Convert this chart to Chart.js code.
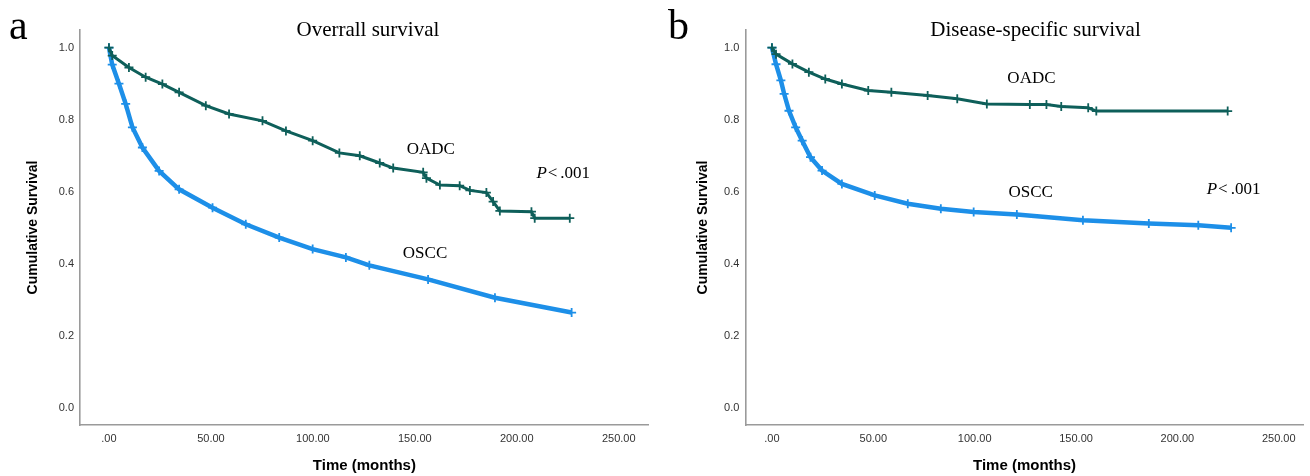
<!DOCTYPE html>
<html>
<head>
<meta charset="utf-8">
<script src="https://cdn.jsdelivr.net/npm/chart.js@4.4.1/dist/chart.umd.min.js"></script>
<style>
  html, body { margin: 0; padding: 0; background: #fff; }
  #lienzo { position: relative; width: 1310px; height: 476px; }
  .panel { position: absolute; top: 0; width: 655px; height: 476px; }
</style>
</head>
<body>
<div id="lienzo">
  <div class="panel" style="left:0"><canvas id="graficaA"></canvas></div>
  <div class="panel" style="left:655px"><canvas id="graficaB"></canvas></div>
</div>
<script>
// Ticks de los ejes
const ticksX = [0, 50, 100, 150, 200, 250];
const etiquetasX = ['.00', '50.00', '100.00', '150.00', '200.00', '250.00'];
const ticksY = [0, 0.2, 0.4, 0.6, 0.8, 1.0];
const etiquetasY = ['0.0', '0.2', '0.4', '0.6', '0.8', '1.0'];

// Panel a: supervivencia global
const tiempoGlobalOSCC = [0, 1.6, 4.9, 8.2, 11.5, 16.4, 24.6, 34.4, 50.8, 67.1, 83.5, 99.9, 116.2, 127.7, 156.5, 189.3, 226.9];
const survGlobalOSCC   = [1.0, 0.953, 0.90, 0.844, 0.779, 0.723, 0.658, 0.607, 0.556, 0.510, 0.473, 0.441, 0.418, 0.396, 0.357, 0.306, 0.265];
const tiempoGlobalOADC = [0, 1.6, 9.8, 18, 26.2, 34.4, 47.5, 58.9, 75.3, 86.8, 99.9, 113, 123, 132.8, 139.4, 154.1, 155.7, 162.3, 172, 177, 185.1, 188.4, 191.7, 207.2, 208.8, 226];
const survGlobalOADC   = [1.0, 0.978, 0.945, 0.918, 0.899, 0.876, 0.839, 0.816, 0.797, 0.769, 0.742, 0.708, 0.700, 0.680, 0.666, 0.654, 0.638, 0.619, 0.617, 0.604, 0.598, 0.573, 0.547, 0.545, 0.527, 0.527];

// Panel b: supervivencia especifica
const tiempoEspOSCC = [0, 2.0, 4.4, 6.0, 8.4, 11.7, 14.9, 19.0, 24.7, 34.5, 50.7, 67, 83.3, 99.5, 120.8, 153.4, 185.9, 210.3, 226.5];
const survEspOSCC   = [1.0, 0.954, 0.909, 0.872, 0.825, 0.779, 0.742, 0.696, 0.659, 0.622, 0.590, 0.567, 0.553, 0.544, 0.537, 0.521, 0.512, 0.507, 0.500];
const tiempoEspOADC = [0, 2, 10.1, 18.2, 26.3, 34.5, 47.5, 58.9, 76.8, 91.4, 106, 127.2, 135.4, 142.7, 156, 160, 224.8];
const survEspOADC   = [1.0, 0.982, 0.955, 0.932, 0.913, 0.899, 0.881, 0.876, 0.867, 0.858, 0.844, 0.842, 0.842, 0.837, 0.833, 0.824, 0.824];

const COLOR_OSCC = '#1d8fe8';
const COLOR_OADC = '#0e5f5a';

const pares = (xs, ys) => xs.map((x, i) => ({ x: x, y: ys[i] }));

// Textos: titulo, letra del panel y anotaciones
const pluginTextos = {
    id: 'textos',
    afterDraw(chart, args, opts) {
        const { ctx, scales: { x, y } } = chart;
        ctx.save();
        ctx.fillStyle = '#000';
        // letra del panel
        ctx.font = '42px "Liberation Serif", serif';
        ctx.textAlign = 'left';
        ctx.textBaseline = 'alphabetic';
        ctx.fillText(opts.letra, opts.letraX, 39);
        // titulo
        ctx.font = '21px "Liberation Serif", serif';
        ctx.textAlign = 'center';
        ctx.textBaseline = 'middle';
        ctx.fillText(opts.titulo, x.getPixelForValue(opts.tituloX), 30);
        // etiquetas de grupo
        ctx.font = '17px "Liberation Serif", serif';
        opts.notas.forEach(n => {
            ctx.fillText(n.texto, x.getPixelForValue(n.x), y.getPixelForValue(n.y));
        });
        // P < .001
        const px = x.getPixelForValue(opts.p.x);
        const py = y.getPixelForValue(opts.p.y);
        ctx.textAlign = 'left';
        ctx.font = 'italic 17px "Liberation Serif", serif';
        const wP = ctx.measureText('P').width;
        ctx.font = '17px "Liberation Serif", serif';
        const wLt = ctx.measureText('<').width;
        const wNum = ctx.measureText('.001').width;
        let cx = px - (wP + wLt + wNum + 4) / 2;
        ctx.font = 'italic 17px "Liberation Serif", serif';
        ctx.fillText('P', cx, py);
        cx += wP + 1;
        ctx.font = '17px "Liberation Serif", serif';
        ctx.fillText('<', cx, py);
        cx += wLt + 3;
        ctx.fillText('.001', cx, py);
        ctx.restore();
    }
};

function crearGrafica(id, cfg) {
    const serie = (label, data, color, grosor) => ({
        label: label,
        data: data,
        borderColor: color,
        backgroundColor: color,
        borderWidth: grosor,
        pointStyle: 'cross',
        pointRadius: 4.5,
        pointBorderWidth: 1.8,
        pointBorderColor: color,
        tension: 0,
        fill: false
    });

    return new Chart(document.getElementById(id), {
        type: 'line',
        data: {
            datasets: [
                serie('OADC', cfg.oadc, COLOR_OADC, 3),
                serie('OSCC', cfg.oscc, COLOR_OSCC, 4.5)
            ]
        },
        options: {
            responsive: true,
            maintainAspectRatio: false,
            animation: false,
            events: [],
            layout: { padding: { top: 30, right: cfg.derecha, bottom: 0, left: 0 } },
            plugins: {
                legend: { display: false },
                tooltip: { enabled: false },
                textos: cfg.textos
            },
            scales: {
                x: {
                    type: 'linear',
                    min: cfg.xMin,
                    max: cfg.xMax,
                    grid: { display: false, drawTicks: false },
                    border: { display: true, color: '#9a9a9a', width: 1.6 },
                    afterBuildTicks: s => { s.ticks = ticksX.map(v => ({ value: v })); },
                    afterFit: s => { s.height = 51; },
                    ticks: {
                        padding: 7,
                        color: '#333',
                        font: { family: '"Liberation Sans", Arial, sans-serif', size: 11 },
                        callback: v => etiquetasX[ticksX.indexOf(v)]
                    },
                    title: {
                        display: true,
                        text: 'Time (months)',
                        color: '#000',
                        padding: { top: 0, bottom: 1 },
                        font: { family: '"Liberation Sans", Arial, sans-serif', size: 15, weight: 'bold' }
                    }
                },
                y: {
                    type: 'linear',
                    min: -0.047,
                    max: 1.049,
                    grid: { display: false, drawTicks: false },
                    border: { display: true, color: '#9a9a9a', width: 1.6 },
                    afterBuildTicks: s => { s.ticks = ticksY.map(v => ({ value: v })); },
                    afterFit: s => { s.width = cfg.anchoY; },
                    ticks: {
                        padding: 6,
                        color: '#333',
                        font: { family: '"Liberation Sans", Arial, sans-serif', size: 11 },
                        callback: v => etiquetasY[ticksY.findIndex(t => Math.abs(t - v) < 1e-6)]
                    },
                    title: {
                        display: true,
                        text: 'Cumulative Survival',
                        color: '#000',
                        padding: { top: cfg.tituloY, bottom: 0 },
                        font: { family: '"Liberation Sans", Arial, sans-serif', size: 14, weight: 'bold' }
                    }
                }
            }
        },
        plugins: [pluginTextos]
    });
}

crearGrafica('graficaA', {
    oscc: pares(tiempoGlobalOSCC, survGlobalOSCC),
    oadc: pares(tiempoGlobalOADC, survGlobalOADC),
    xMin: -14.2, xMax: 264.7,
    anchoY: 80, derecha: 6, tituloY: 24.6,
    textos: {
        letra: 'a', letraX: 9,
        titulo: 'Overrall survival', tituloX: 127,
        notas: [
            { texto: 'OADC', x: 157.8, y: 0.717 },
            { texto: 'OSCC', x: 155, y: 0.429 }
        ],
        p: { x: 222.8, y: 0.651 }
    }
});

crearGrafica('graficaB', {
    oscc: pares(tiempoEspOSCC, survEspOSCC),
    oadc: pares(tiempoEspOADC, survEspOADC),
    xMin: -13.1, xMax: 262.3,
    anchoY: 90.4, derecha: 0, tituloY: 39.6,
    textos: {
        letra: 'b', letraX: 13,
        titulo: 'Disease-specific survival', tituloX: 130,
        notas: [
            { texto: 'OADC', x: 128, y: 0.915 },
            { texto: 'OSCC', x: 127.6, y: 0.598 }
        ],
        p: { x: 227.7, y: 0.607 }
    }
});
</script>
</body>
</html>
